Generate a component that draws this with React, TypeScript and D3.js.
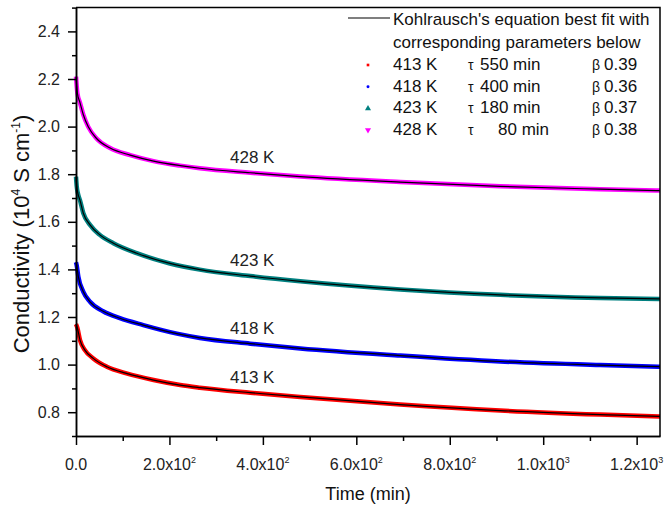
import { useEffect, useRef } from 'react';
import * as d3 from 'd3';

// readings: time in min, conductivity in 10^4 S/cm
const t413 = [0, 2.8, 8.6, 19, 37, 66, 108, 166, 223, 265, 373, 480, 694, 908, 1122, 1250];
const v413 = [1.17, 1.155, 1.103, 1.061, 1.026, 0.991, 0.963, 0.935, 0.914, 0.903, 0.882, 0.864, 0.832, 0.807, 0.79, 0.782];

const t418 = [0, 1.4, 5, 15.7, 30, 58, 94, 144, 216, 265, 373, 480, 694, 908, 1122, 1250];
const v418 = [1.43, 1.418, 1.37, 1.306, 1.264, 1.224, 1.195, 1.166, 1.13, 1.112, 1.088, 1.068, 1.038, 1.013, 0.998, 0.991];

const t423 = [0, 1.5, 4, 8.6, 15.7, 30, 51, 80, 130, 201, 265, 373, 480, 694, 908, 1122, 1250];
const v423 = [1.79, 1.75, 1.72, 1.69, 1.636, 1.587, 1.545, 1.51, 1.468, 1.425, 1.399, 1.372, 1.35, 1.316, 1.293, 1.28, 1.276];

const t428 = [0, 1.5, 3, 8.6, 15.7, 26, 44, 73, 116, 166, 223, 265, 373, 480, 694, 908, 1122, 1250];
const v428 = [2.21, 2.17, 2.14, 2.1, 2.05, 2.0, 1.95, 1.91, 1.88, 1.855, 1.836, 1.825, 1.806, 1.79, 1.767, 1.749, 1.737, 1.731];

const temps = ['413 K', '418 K', '423 K', '428 K'];
const taus = ['550 min', '400 min', '180 min', '80 min'];
const betas = ['0.39', '0.36', '0.37', '0.38'];

const xMajor = [0, 200, 400, 600, 800, 1000, 1200];
const xMinor = [100, 300, 500, 700, 900, 1100];
const xMant = ['0.0', '2.0', '4.0', '6.0', '8.0', '1.0', '1.2'];
const xExp = ['', '2', '2', '2', '2', '3', '3'];
const yMajor = [0.8, 1.0, 1.2, 1.4, 1.6, 1.8, 2.0, 2.2, 2.4];
const yMinor = [0.7, 0.9, 1.1, 1.3, 1.5, 1.7, 1.9, 2.1, 2.3, 2.5];

const colors = ['#ff0000', '#0000ff', '#008080', '#ff00ff'];
const font = '"Liberation Sans", Arial, sans-serif';

const App = () => {
  const ref = useRef<SVGSVGElement>(null);

  useEffect(() => {
    const svg = d3.select(ref.current);
    svg.selectAll('*').remove();

    const x = d3.scaleLinear().domain([0, 1250]).range([76, 660]);
    const y = d3.scaleLinear().domain([0.7, 2.5]).range([436, 7.6]);

    const series = [
      { t: t413, v: v413 },
      { t: t418, v: v418 },
      { t: t423, v: v423 },
      { t: t428, v: v428 },
    ];

    const line = d3.line<[number, number]>()
      .x(d => x(d[0]))
      .y(d => y(d[1]))
      .curve(d3.curveMonotoneX);

    const plot = svg.append('g');
    series.forEach((s, i) => {
      const pts = s.t.map((t, j) => [t, s.v[j]] as [number, number]);
      plot.append('path').attr('d', line(pts))
        .attr('fill', 'none').attr('stroke', colors[i]).attr('stroke-width', 4.5)
        .attr('stroke-linejoin', 'round');
      plot.append('path').attr('d', line(pts))
        .attr('fill', 'none').attr('stroke', '#000').attr('stroke-width', 1.2);
      // label over each curve
      const k = s.t.indexOf(373);
      plot.append('text')
        .attr('x', 230).attr('y', y(s.v[k]) - 10)
        .attr('font-family', font).attr('font-size', 17).attr('fill', '#222')
        .text(temps[i]);
    });

    // frame
    svg.append('path')
      .attr('d', `M${x(0)},${y(2.5)}H${x(1250)}V${y(0.7)}`)
      .attr('fill', 'none').attr('stroke', '#000').attr('stroke-width', 1.5);

    const styleAxis = (g: any) => {
      g.select('.domain').attr('stroke-width', 1.5);
      g.selectAll('line').attr('stroke-width', 1.5);
    };

    svg.append('g').attr('transform', `translate(0,${y(0.7)})`)
      .call(d3.axisBottom(x).tickValues(xMajor).tickSize(9).tickSizeOuter(0).tickFormat(() => ''))
      .call(styleAxis);
    svg.append('g').attr('transform', `translate(0,${y(0.7)})`)
      .call(d3.axisBottom(x).tickValues(xMinor).tickSize(5).tickSizeOuter(0).tickFormat(() => ''))
      .call(styleAxis);
    svg.append('g').attr('transform', `translate(${x(0)},0)`)
      .call(d3.axisLeft(y).tickValues(yMajor).tickSize(8).tickSizeOuter(0).tickPadding(8)
        .tickFormat(d => d3.format('.1f')(d as number)))
      .call(styleAxis)
      .call(g => g.selectAll('text').attr('font-family', font).attr('font-size', 16).attr('fill', '#222'));
    svg.append('g').attr('transform', `translate(${x(0)},0)`)
      .call(d3.axisLeft(y).tickValues(yMinor).tickSize(4).tickSizeOuter(0).tickFormat(() => ''))
      .call(styleAxis);

    // x tick labels with exponents
    xMajor.forEach((v, i) => {
      const tx = svg.append('text')
        .attr('x', x(v)).attr('y', 470)
        .attr('text-anchor', 'middle')
        .attr('font-family', font).attr('font-size', 16).attr('fill', '#222');
      if (xExp[i]) {
        tx.append('tspan').text(`${xMant[i]}x10`);
        tx.append('tspan').attr('dy', -7).attr('font-size', 9).text(xExp[i]);
      } else {
        tx.text(xMant[i]);
      }
    });

    svg.append('text')
      .attr('x', (x(0) + x(1250)) / 2).attr('y', 500)
      .attr('text-anchor', 'middle')
      .attr('font-family', font).attr('font-size', 18).attr('fill', '#111')
      .text('Time (min)');

    const yt = svg.append('text')
      .attr('transform', 'translate(29,234) rotate(-90)')
      .attr('text-anchor', 'middle')
      .attr('font-family', font).attr('font-size', 22).attr('fill', '#111');
    yt.append('tspan').text('Conductivity (10');
    yt.append('tspan').attr('dy', -9).attr('font-size', 12).text('4');
    yt.append('tspan').attr('dy', 9).text(' S cm');
    yt.append('tspan').attr('dy', -9).attr('font-size', 12).text('-1');
    yt.append('tspan').attr('dy', 9).text(')');

    // legend
    const lg = svg.append('g').attr('font-family', font).attr('font-size', 17).attr('fill', '#111');
    lg.append('line').attr('x1', 348).attr('x2', 390).attr('y1', 18).attr('y2', 18)
      .attr('stroke', '#000').attr('stroke-width', 1.2);
    lg.append('text').attr('x', 393).attr('y', 24.5).text("Kohlrausch's equation best fit with");
    lg.append('text').attr('x', 393).attr('y', 47.5).text('corresponding parameters below');

    const sym = [d3.symbolSquare, d3.symbolCircle, d3.symbolTriangle, d3.symbolTriangle];
    const symSize = [7, 7, 16, 16];
    temps.forEach((tl, i) => {
      const by = 70 + i * 21.7;
      lg.append('path')
        .attr('d', d3.symbol(sym[i], symSize[i])())
        .attr('transform', `translate(368,${by - 5})${i === 3 ? ' rotate(180)' : ''}`)
        .attr('fill', colors[i]);
      lg.append('text').attr('x', 393).attr('y', by).text(tl);
      lg.append('text').attr('x', 468).attr('y', by).attr('font-size', 14).text('τ');
      lg.append('text').attr('x', i === 3 ? 498 : 480).attr('y', by).text(taus[i]);
      lg.append('text').attr('x', 592).attr('y', by).attr('font-size', 14).text('β');
      lg.append('text').attr('x', 604).attr('y', by).text(betas[i]);
    });
  }, []);

  return (
    <svg ref={ref} width={667} height={511}
      style={{ position: 'absolute', left: 0, top: 0, background: '#fff' }} />
  );
};

export default App;
